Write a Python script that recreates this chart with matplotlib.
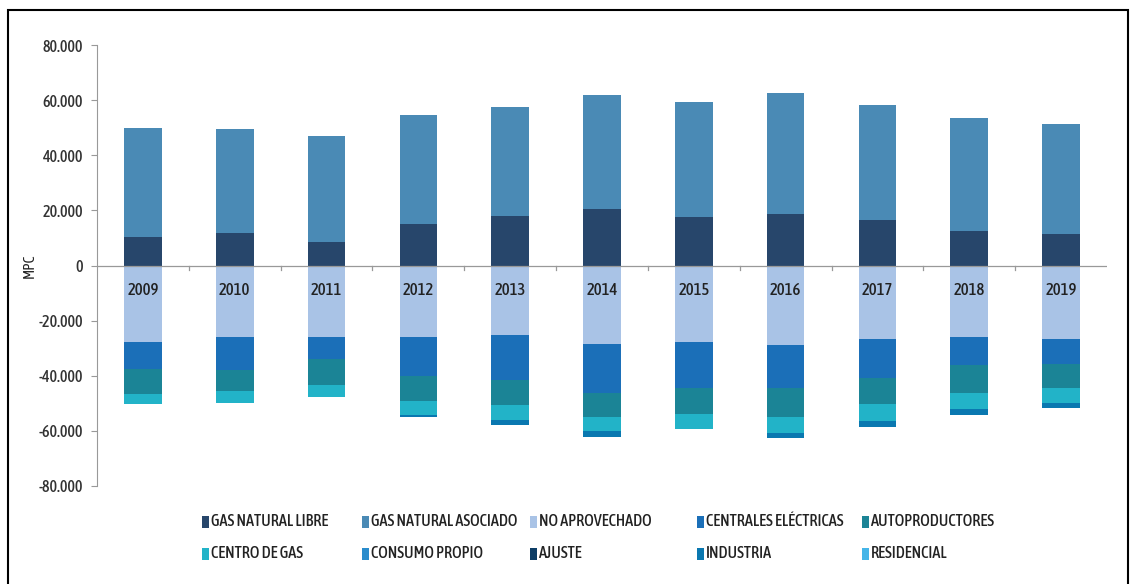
import numpy as np
import matplotlib
matplotlib.use("Agg")
import matplotlib.pyplot as plt
from matplotlib.patches import Rectangle
from matplotlib.ticker import FuncFormatter

plt.rcParams["font.family"] = ["Asap Condensed", "Archivo Narrow", "DejaVu Sans"]
plt.rcParams["font.weight"] = "medium"

years = [2009, 2010, 2011, 2012, 2013, 2014, 2015, 2016, 2017, 2018, 2019]

# supply (MPC, positive)
gas_libre = [10400, 11800, 8500, 15100, 18000, 20500, 17600, 18700, 16500, 12500, 11500]
gas_asociado = [39600, 37800, 38600, 39600, 39600, 41500, 41900, 44000, 41900, 41100, 40000]

# uses (MPC, negative)
no_aprovechado = [-27700, -25900, -25900, -26100, -25300, -28500, -27900, -28900, -26700, -25900, -26500]
centrales = [-10000, -11900, -8200, -14100, -16100, -17900, -16700, -15700, -14100, -10300, -9300]
autoproductores = [-9000, -7900, -9100, -9100, -9300, -8500, -9100, -10300, -9300, -10100, -8600]
centro_gas = [-3600, -4100, -4500, -4800, -5200, -5200, -5800, -6000, -6300, -5900, -5500]
consumo_propio = [0, 0, 0, 0, 0, 0, 0, 0, 0, 0, 0]
ajuste = [0, 0, 0, 0, 0, 0, 0, 0, 0, 0, 0]
industria = [0, 0, 0, -900, -2000, -2100, 0, -1800, -2200, -1900, -1800]
residencial = [0, 0, 0, 0, 0, 0, 0, 0, 0, 0, 0]

labels = ["GAS NATURAL LIBRE", "GAS NATURAL ASOCIADO", "NO APROVECHADO",
          "CENTRALES ELÉCTRICAS", "AUTOPRODUCTORES", "CENTRO DE GAS",
          "CONSUMO PROPIO", "AJUSTE", "INDUSTRIA", "RESIDENCIAL"]
colors = ["#27466b", "#4a8ab5", "#a9c3e6", "#1b6fb8", "#1b8496",
          "#22b3c8", "#2a8ccc", "#0d3d66", "#0a78b0", "#45b5e8"]

pos_series = [gas_libre, gas_asociado]
neg_series = [no_aprovechado, centrales, autoproductores, centro_gas,
              consumo_propio, ajuste, industria, residencial]

W, H = 1135, 584
fig = plt.figure(figsize=(W / 100, H / 100), dpi=100)
ax = fig.add_axes([97 / W, 1 - 486 / H, 1010 / W, 441 / H])

x = np.arange(len(years))
w = 0.41
bottom = np.zeros(len(years))
for s, c in zip(pos_series, colors[:2]):
    ax.bar(x, s, w, bottom=bottom, color=c, zorder=2)
    bottom += np.array(s)
bottom = np.zeros(len(years))
for s, c in zip(neg_series, colors[2:]):
    ax.bar(x, s, w, bottom=bottom, color=c, zorder=2)
    bottom += np.array(s)

ax.set_xlim(-0.5, len(years) - 0.5)
ax.set_ylim(-80000, 80000)
ax.set_yticks(np.arange(-80000, 80001, 20000))
ax.yaxis.set_major_formatter(FuncFormatter(lambda v, p: f"{v:,.0f}".replace(",", ".")))
ax.tick_params(axis="y", labelsize=11.5, labelcolor="#333333", color="#999999",
               length=4, width=0.8, pad=6)
ax.set_xticks([])
for sp in ["top", "right", "bottom"]:
    ax.spines[sp].set_visible(False)
ax.spines["left"].set_color("#999999")
ax.spines["left"].set_linewidth(0.8)
ax.axhline(0, color="#999999", lw=0.9, zorder=3)
for b in np.arange(0.5, len(years) - 1, 1.0):
    ax.plot([b, b], [0, -1600], color="#999999", lw=0.9, zorder=3)

for xi, yr in zip(x, years):
    ax.text(xi, -9000, str(yr), ha="center", va="center", fontsize=12,
            color="#222222", zorder=4)

ax.set_ylabel("MPC", fontsize=11, color="#222222")
ax.yaxis.set_label_coords(-0.06, 0.5)

# legend laid out as in the reference: two rows of five
leg_x = [202, 362, 530, 697, 862]
leg_y = [522, 554]
for i, (lab, c) in enumerate(zip(labels, colors)):
    px, py = leg_x[i % 5], leg_y[i // 5]
    fig.patches.append(Rectangle((px / W, 1 - (py + 6) / H), 7 / W, 12 / H,
                                 transform=fig.transFigure, facecolor=c,
                                 edgecolor="none"))
    fig.text((px + 9) / W, 1 - py / H, lab, ha="left", va="center",
             fontsize=11.7, color="#222222")

fig.patches.append(Rectangle((8 / W, -0.05), 1120 / W, 1.05 - 10 / H,
                             transform=fig.transFigure, fill=False,
                             edgecolor="black", lw=1.5))

fig.savefig("out.png", dpi=100)
